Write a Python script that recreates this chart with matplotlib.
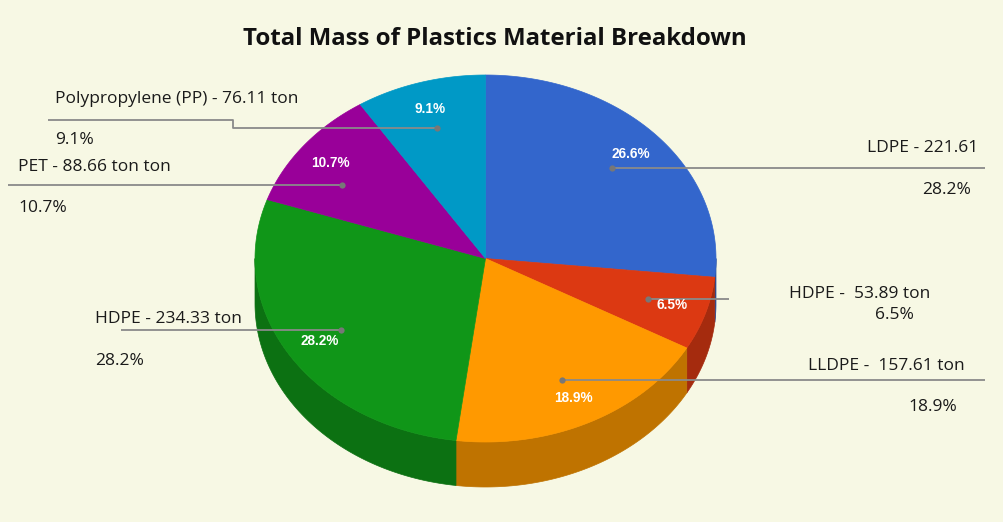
import matplotlib
matplotlib.use("Agg")
import matplotlib.pyplot as plt
from matplotlib.patches import Polygon
import numpy as np

# data
names = ["LDPE", "HDPE", "LLDPE", "HDPE", "PET", "Polypropylene (PP)"]
masses = [221.61, 53.89, 157.61, 234.33, 88.66, 76.11]
colors = ["#3366cc", "#dc3912", "#ff9900", "#109618", "#990099", "#0099c6"]
outer_names = ["LDPE - 221.61", "HDPE -  53.89 ton", "LLDPE -  157.61 ton",
               "HDPE - 234.33 ton", "PET - 88.66 ton ton",
               "Polypropylene (PP) - 76.11 ton"]
outer_pcts = ["28.2%", "6.5%", "18.9%", "28.2%", "10.7%", "9.1%"]
title = "Total Mass of Plastics Material Breakdown"

BG = "#f7f8e4"
cx, cy = 485.5, 258.5
rx, ry = 230.5, 183.5
depth = 45

# label layout: (name x, name y, pct x, pct y, align, line end x)
layout = [
    (978, 148, 971, 190, "right", 985),
    (930, 294, 914, 315, "right", 729),
    (965, 366, 957, 407, "right", 985),
    (95, 319, 95, 361, "left", 121),
    (18, 167, 18, 208, "left", 8),
    (55, 99, 55, 140, "left", 48),
]
anchor_shift = [0, 0, 0, 0, -5, 0]


def pt(theta, r=1.0, dz=0.0):
    t = np.radians(theta)
    return cx + rx * r * np.sin(t), cy - ry * r * np.cos(t) + dz


def darker(c, f=0.75):
    rgb = matplotlib.colors.to_rgb(c)
    return tuple(v * f for v in rgb)


fig = plt.figure(figsize=(10.04, 5.22), dpi=100, facecolor=BG)
ax = fig.add_axes([0, 0, 1, 1])
ax.set_xlim(0, 1004)
ax.set_ylim(522, 0)
ax.axis("off")
ax.set_facecolor(BG)

total = sum(masses)
fracs = [m / total for m in masses]
bounds = np.concatenate([[0], np.cumsum(fracs)]) * 360

# side walls (front half only)
for i in range(len(masses)):
    a, b = max(bounds[i], 90), min(bounds[i + 1], 270)
    if b <= a:
        continue
    th = np.linspace(a, b, 80)
    top = [pt(t) for t in th]
    bot = [pt(t, dz=depth) for t in th[::-1]]
    ax.add_patch(Polygon(top + bot, closed=True, fc=darker(colors[i]),
                         ec=darker(colors[i]), lw=0.5, zorder=1))

# top surface
for i in range(len(masses)):
    th = np.linspace(bounds[i], bounds[i + 1], 120)
    verts = [(cx, cy)] + [pt(t) for t in th]
    ax.add_patch(Polygon(verts, closed=True, fc=colors[i], ec=colors[i],
                         lw=0.5, zorder=2))

# inside percentage labels
for i in range(len(masses)):
    mid = (bounds[i] + bounds[i + 1]) / 2
    x, y = pt(mid, 0.85)
    ax.text(x, y, f"{fracs[i] * 100:.1f}%", color="white", fontsize=9.8,
            fontweight="bold", family="Liberation Sans", ha="center",
            va="center", zorder=5)

# leader lines and outside labels
for i in range(len(masses)):
    mid = (bounds[i] + bounds[i + 1]) / 2 + anchor_shift[i]
    dx, dy = pt(mid, 0.74)
    nx, ny, px, py, al, lx = layout[i]
    if i == 5:
        xs = [dx, 233, 233, lx]
        ys = [dy, dy, 120, 120]
    else:
        xs = [dx, lx]
        ys = [dy, dy]
    ax.plot(xs, ys, color="#8a8a8a", lw=1.3, zorder=4, solid_capstyle="butt")
    ax.plot(dx, dy, "o", ms=4.5, color="#777777", mec="none", zorder=4)
    ax.text(nx, ny, outer_names[i], fontsize=12.5, family="Open Sans",
            color="#1a1a1a", ha=al, va="center", zorder=6)
    ax.text(px, py, outer_pcts[i], fontsize=12.5, family="Open Sans",
            color="#1a1a1a", ha=al, va="center", zorder=6)

ax.text(495, 39, title, fontsize=17.3, fontweight="bold", family="Open Sans",
        color="#111111", ha="center", va="center")

fig.savefig("out.png", dpi=100, facecolor=BG)
